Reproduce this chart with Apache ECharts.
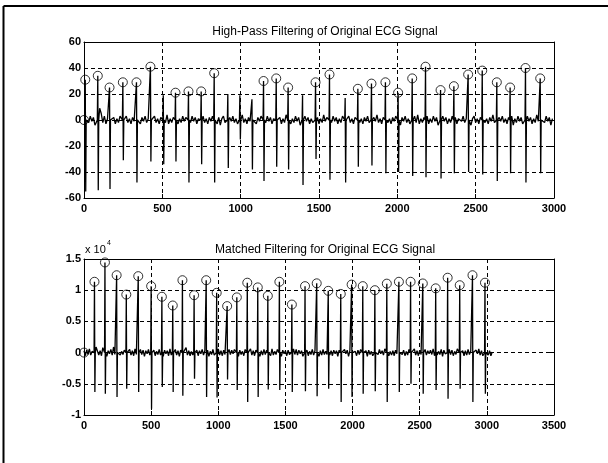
<!DOCTYPE html>
<html lang="en">
<head>
<meta charset="UTF-8">
<title>ECG filtering</title>
<style>
  * { margin: 0; padding: 0; box-sizing: border-box; }
  html, body { background: #fff; }
  #chart { width: 608px; height: 463px; }
</style>
</head>
<body>
<div id="chart"></div>
<script src="https://cdn.jsdelivr.net/npm/echarts@6/dist/echarts.min.js"></script>
<script>
// ---- top plot: high-pass filtered ECG ----
const hpTicksX = [0, 500, 1000, 1500, 2000, 2500, 3000];
const hpTicksY = [-60, -40, -20, 0, 20, 40, 60];
// QRS spikes (sample index, top of spike, bottom of spike)
const hpBeatX = [8, 88, 163, 248, 335, 424, 506, 584, 667, 748, 831, 918, 995, 1072, 1146, 1227, 1303, 1395,
  1478, 1567, 1667, 1748, 1835, 1924, 2005, 2095, 2180, 2276, 2361, 2452, 2542, 2635, 2720, 2818, 2912];
const hpBeatTop = [31, 34, 25, 29, 29, 41, 19, 21, 22, 22, 36, 20, 19, 16, 30, 32, 25, 19,
  29, 35, 17, 24, 28, 29, 21, 32, 41, 23, 26, 35, 38, 29, 25, 40, 32];
const hpBeatBottom = [-55, -54, -53, -31, -48, -32, -34, -32, -48, -34, -48, -37, -15, -38, -47, -36, -38, -50,
  -30, -46, -48, -36, -35, -41, -40, -43, -44, -45, -41, -40, -42, -47, -41, -48, -41];
// detected peaks (circles)
const hpMarkX = [0, 8, 88, 163, 248, 335, 424, 584, 667, 748, 831, 1146, 1227, 1303, 1478, 1567,
  1748, 1835, 1924, 2005, 2095, 2180, 2276, 2361, 2452, 2542, 2635, 2720, 2818, 2912];
const hpMarkY = [0, 31, 34, 25, 29, 29, 41, 21, 22, 22, 36, 30, 32, 25, 29, 35,
  24, 28, 29, 21, 32, 41, 23, 26, 35, 38, 29, 25, 40, 32];
// baseline between beats, one value every 10 samples
const hpBaseStep = 10;
const hpBase = [
  2, -3, 1, -2, 3, -1, 2, -4, 1, 3,
  9, 5, -2, 3, -3, 1, -2, 4, -1, 2,
  -3, 1, -2, 3, -4, 2, -1, 3, -2, 1,
  -3, 2, -1, 4, -2, 1, -3, 2, -1, 3,
  -2, 1, -4, 2, -1, 3, -2, 1, -3, 2,
  -1, 3, -2, 4, -3, 1, -2, 2, -1, 3,
  -3, 1, -2, 3, -1, 2, -4, 1, -2, 3,
  -1, 2, -3, 1, 5, 7, 3, -2, 1, -3,
  2, -1, 3, -2, 1, -3, 2, -4, 1, 3,
  -2, 1, -3, 2, -1, 3, -2, 1, -3, 2,
  -1, 4, -2, 1, -3, 2, -1, 3, -2, 1,
  -3, 2, -1, 3, -4, 1, -2, 3, -1, 2,
  -3, 1, -2, 3, -1, 2, -3, 1, -2, 4,
  -1, 2, -3, 1, -2, 3, -1, 2, -4, 1,
  -2, 3, -1, 2, -3, 1, -2, 3, -1, 2,
  -3, 1, -2, 4, -1, 2, -3, 1, -2, 3,
  -1, 2, -3, 1, -2, 3, -4, 2, -1, 3,
  -2, 1, -3, 2, -1, 3, -2, 1, -3, 2,
  -1, 3, -2, 1, -3, 2, -1, 4, -2, 1,
  -3, 2, -1, 3, -2, 1, -3, 2, -1, 3,
  -2, 1, -4, 2, -1, 3, -2, 1, -3, 2,
  -1, 3, -2, 4, -3, 1, -2, 2, -1, 3,
  -3, 1, -2, 3, -1, 2, -4, 1, -2, 3,
  -1, 2, -3, 1, -2, 3, -1, 2, -3, 1,
  2, -1, 3, -2, 1, -3, 2, -4, 1, 3,
  -2, 1, -3, 2, -1, 3, -2, 1, -3, 2,
  -1, 4, -2, 1, -3, 2, -1, 3, -2, 1,
  -3, 2, -1, 3, -4, 1, -2, 3, -1, 2,
  -3, 1, -2, 3, -1, 2, -3, 1, -2, 4,
  -1, 2, -3, 1, -2, 3, -1, 2, -4, 1
];

// ---- bottom plot: matched filter output (raw units, axis shows x 10^4) ----
const mfTicksX = [0, 500, 1000, 1500, 2000, 2500, 3000, 3500];
const mfTicksY = [-10000, -5000, 0, 5000, 10000, 15000];
const mfBeatX = [78, 156, 243, 315, 404, 500, 580, 661, 733, 820, 910, 988, 1066, 1138, 1216, 1294, 1369, 1455,
  1548, 1646, 1733, 1819, 1912, 1993, 2076, 2166, 2255, 2345, 2432, 2523, 2619, 2708, 2798, 2893, 2986];
const mfBeatTop = [11350, 14450, 12400, 9300, 12250, 10650, 8950, 7550, 11600, 9200, 11600, 9580, 7450, 8850,
  11200, 10450, 9100, 11350, 7700, 10650, 11100, 9900, 9400, 10900, 10650, 10000, 11050, 11350, 11350, 11080,
  10300, 12000, 10800, 12400, 11200];
const mfBeatBottom = [-6300, -6600, -7100, -5800, -6300, -9000, -5500, -6300, -6900, -4200, -7100, -7200, -4300,
  -6000, -7900, -7100, -5900, -6000, -6300, -6200, -7000, -5800, -7900, -7100, -6600, -6200, -7900, -6300,
  -5000, -6600, -6000, -7400, -5800, -7900, -6600];
const mfMarkX = [0].concat(mfBeatX);
const mfMarkY = [0].concat(mfBeatTop);
const mfBaseStep = 10;
const mfBase = [
  300, -500, 400, -300, 600, -400, 200, -600, 500, 900,
  700, -400, 300, -500, 800, -300, 400, -600, 300, -200,
  500, -400, 900, -300, 600, -500, 300, -400, 200, -300,
  400, -600, 300, -200, 500, -400, 300, -500, 600, -300,
  200, -400, 500, -300, 400, -600, 300, -200, 500, -400,
  600, -300, 400, -500, 200, -300, 500, -400, 300, -600,
  400, -200, 300, -500, 600, -400, 200, -300, 500, -400,
  300, -600, 400, -200, 500, -300, 800, -400, 300, -500,
  200, -400, 600, -300, 400, -500, 300, -200, 500, -400,
  300, -500, 400, -600, 200, -300, 500, -400, 300, -200,
  600, -400, 300, -500, 400, -300, 200, -600, 500, -300,
  400, -200, 500, -400, 300, -600, 400, -300, 200, -500,
  500, -300, 400, -200, 600, -400, 300, -500, 400, -300,
  200, -600, 300, -400, 500, -300, 400, -200, 300, -500,
  600, -400, 200, -300, 500, -400, 300, -600, 400, -200,
  300, -500, 400, -300, 200, -400, 600, -300, 500, -400,
  400, -200, 300, -600, 500, -300, 400, -500, 200, -300,
  500, -400, 300, -200, 400, -600, 300, -400, 500, -300,
  200, -300, 600, -400, 300, -500, 400, -200, 300, -600,
  400, -500, 300, -300, 500, -200, 400, -600, 300, -400,
  600, -300, 200, -500, 400, -300, 500, -400, 300, -200,
  300, -600, 400, -300, 200, -500, 600, -400, 300, -300,
  500, -200, 300, -400, 600, -300, 400, -500, 200, -400,
  300, -500, 400, -200, 500, -600, 300, -300, 400, -500,
  200, -400, 500, -300, 300, -200, 600, -400, 300, -500,
  400, -300, 200, -600, 500, -400, 300, -200, 400, -300,
  600, -500, 300, -400, 200, -300, 500, -600, 400, -200,
  300, -400, 500, -300, 400, -500, 200, -300, 600, -400,
  400, -200, 300, -500, 300, -400, 500, -300, 200, -600,
  500, -300, 400, -200, 600, -400, 300, -500, 400, -300,
  200, -400, 300, -500, 100
];

// merge baseline samples and spikes into one trace
function buildTrace(step, base, beatX, top, bottom) {
  const pts = [];
  base.forEach(function (v, i) {
    const x = i * step;
    if (beatX.every(function (b) { return Math.abs(x - b) > 8; })) pts.push([x, v]);
  });
  beatX.forEach(function (b, i) {
    pts.push([b - 3, 0]);
    pts.push([b, top[i]]);
    pts.push([b + 3, bottom[i]]);
    pts.push([b + 6, 0]);
  });
  pts.sort(function (a, b) { return a[0] - b[0]; });
  return pts;
}

function zip(xs, ys) {
  return xs.map(function (x, i) { return [x, ys[i]]; });
}

const FONT = 'Liberation Sans';
const dash = { color: '#000', width: 1, type: [4, 3] };

function bottomX(grid, ticks) {
  return {
    type: 'value', gridIndex: grid, position: 'bottom',
    min: ticks[0], max: ticks[ticks.length - 1], interval: ticks[1] - ticks[0],
    axisLine: { onZero: false, lineStyle: { color: '#000', width: 1 } },
    axisTick: { inside: true, length: 4, lineStyle: { color: '#000' } },
    axisLabel: { color: '#000', fontSize: 11, fontWeight: 'bold', fontFamily: FONT, margin: 5,
      formatter: function (v) { return String(v); } },
    splitLine: { show: true, lineStyle: dash }
  };
}
function topX(grid, ticks) {
  return {
    type: 'value', gridIndex: grid, position: 'top',
    min: ticks[0], max: ticks[ticks.length - 1], interval: ticks[1] - ticks[0],
    axisLine: { onZero: false, lineStyle: { color: '#000', width: 1 } },
    axisTick: { inside: true, length: 4, lineStyle: { color: '#000' } },
    axisLabel: { show: false },
    splitLine: { show: false }
  };
}
function leftY(grid, ticks, fmt) {
  return {
    type: 'value', gridIndex: grid, position: 'left',
    min: ticks[0], max: ticks[ticks.length - 1], interval: ticks[1] - ticks[0],
    axisLine: { show: true, onZero: false, lineStyle: { color: '#000', width: 1 } },
    axisTick: { show: true, inside: true, length: 4, lineStyle: { color: '#000' } },
    axisLabel: { color: '#000', fontSize: 11, fontWeight: 'bold', fontFamily: FONT, margin: 3,
      formatter: fmt || function (v) { return String(v); } },
    splitLine: { show: true, lineStyle: dash }
  };
}
function rightY(grid, ticks) {
  return {
    type: 'value', gridIndex: grid, position: 'right',
    min: ticks[0], max: ticks[ticks.length - 1], interval: ticks[1] - ticks[0],
    axisLine: { show: true, onZero: false, lineStyle: { color: '#000', width: 1 } },
    axisTick: { show: true, inside: true, length: 4, lineStyle: { color: '#000' } },
    axisLabel: { show: false },
    splitLine: { show: false }
  };
}

const chart = echarts.init(document.getElementById('chart'), null, { renderer: 'canvas' });

const option = {
  animation: false,
  backgroundColor: '#fff',
  title: [
    { text: 'High-Pass Filtering of Original ECG Signal', left: 320, top: 21, textAlign: 'center',
      textStyle: { fontSize: 12, fontWeight: 'normal', color: '#000', fontFamily: FONT } },
    { text: 'Matched Filtering for Original ECG Signal', left: 320, top: 239, textAlign: 'center',
      textStyle: { fontSize: 12, fontWeight: 'normal', color: '#000', fontFamily: FONT } }
  ],
  grid: [
    { left: 84, top: 42, width: 470, height: 156 },
    { left: 84, top: 259, width: 470, height: 156 }
  ],
  xAxis: [bottomX(0, hpTicksX), topX(0, hpTicksX), bottomX(1, mfTicksX), topX(1, mfTicksX)],
  yAxis: [
    leftY(0, hpTicksY), rightY(0, hpTicksY),
    leftY(1, mfTicksY, function (v) { return String(v / 10000); }), rightY(1, mfTicksY)
  ],
  graphic: [
    { type: 'line', shape: { x1: 3.5, y1: 6, x2: 608, y2: 6 }, style: { stroke: '#000', lineWidth: 2 } },
    { type: 'line', shape: { x1: 3.5, y1: 6, x2: 3.5, y2: 463 }, style: { stroke: '#000', lineWidth: 2 } },
    { type: 'text', left: 85, top: 244, style: { text: 'x 10', fontSize: 11, fontFamily: FONT, fill: '#000' } },
    { type: 'text', left: 107, top: 240, style: { text: '4', fontSize: 7, fontFamily: FONT, fill: '#000' } }
  ],
  series: [
    {
      type: 'line', xAxisIndex: 0, yAxisIndex: 0, showSymbol: false,
      lineStyle: { color: '#000', width: 1.3 },
      data: buildTrace(hpBaseStep, hpBase, hpBeatX, hpBeatTop, hpBeatBottom), z: 3
    },
    {
      type: 'scatter', xAxisIndex: 0, yAxisIndex: 0, symbol: 'circle', symbolSize: 9,
      itemStyle: { color: 'transparent', borderColor: '#000', borderWidth: 1 },
      data: zip(hpMarkX, hpMarkY), z: 4
    },
    {
      type: 'line', xAxisIndex: 2, yAxisIndex: 2, showSymbol: false,
      lineStyle: { color: '#000', width: 1.3 },
      data: buildTrace(mfBaseStep, mfBase, mfBeatX, mfBeatTop, mfBeatBottom), z: 3
    },
    {
      type: 'scatter', xAxisIndex: 2, yAxisIndex: 2, symbol: 'circle', symbolSize: 9,
      itemStyle: { color: 'transparent', borderColor: '#000', borderWidth: 1 },
      data: zip(mfMarkX, mfMarkY), z: 4
    }
  ]
};
chart.setOption(option);
</script>
</body>
</html>
